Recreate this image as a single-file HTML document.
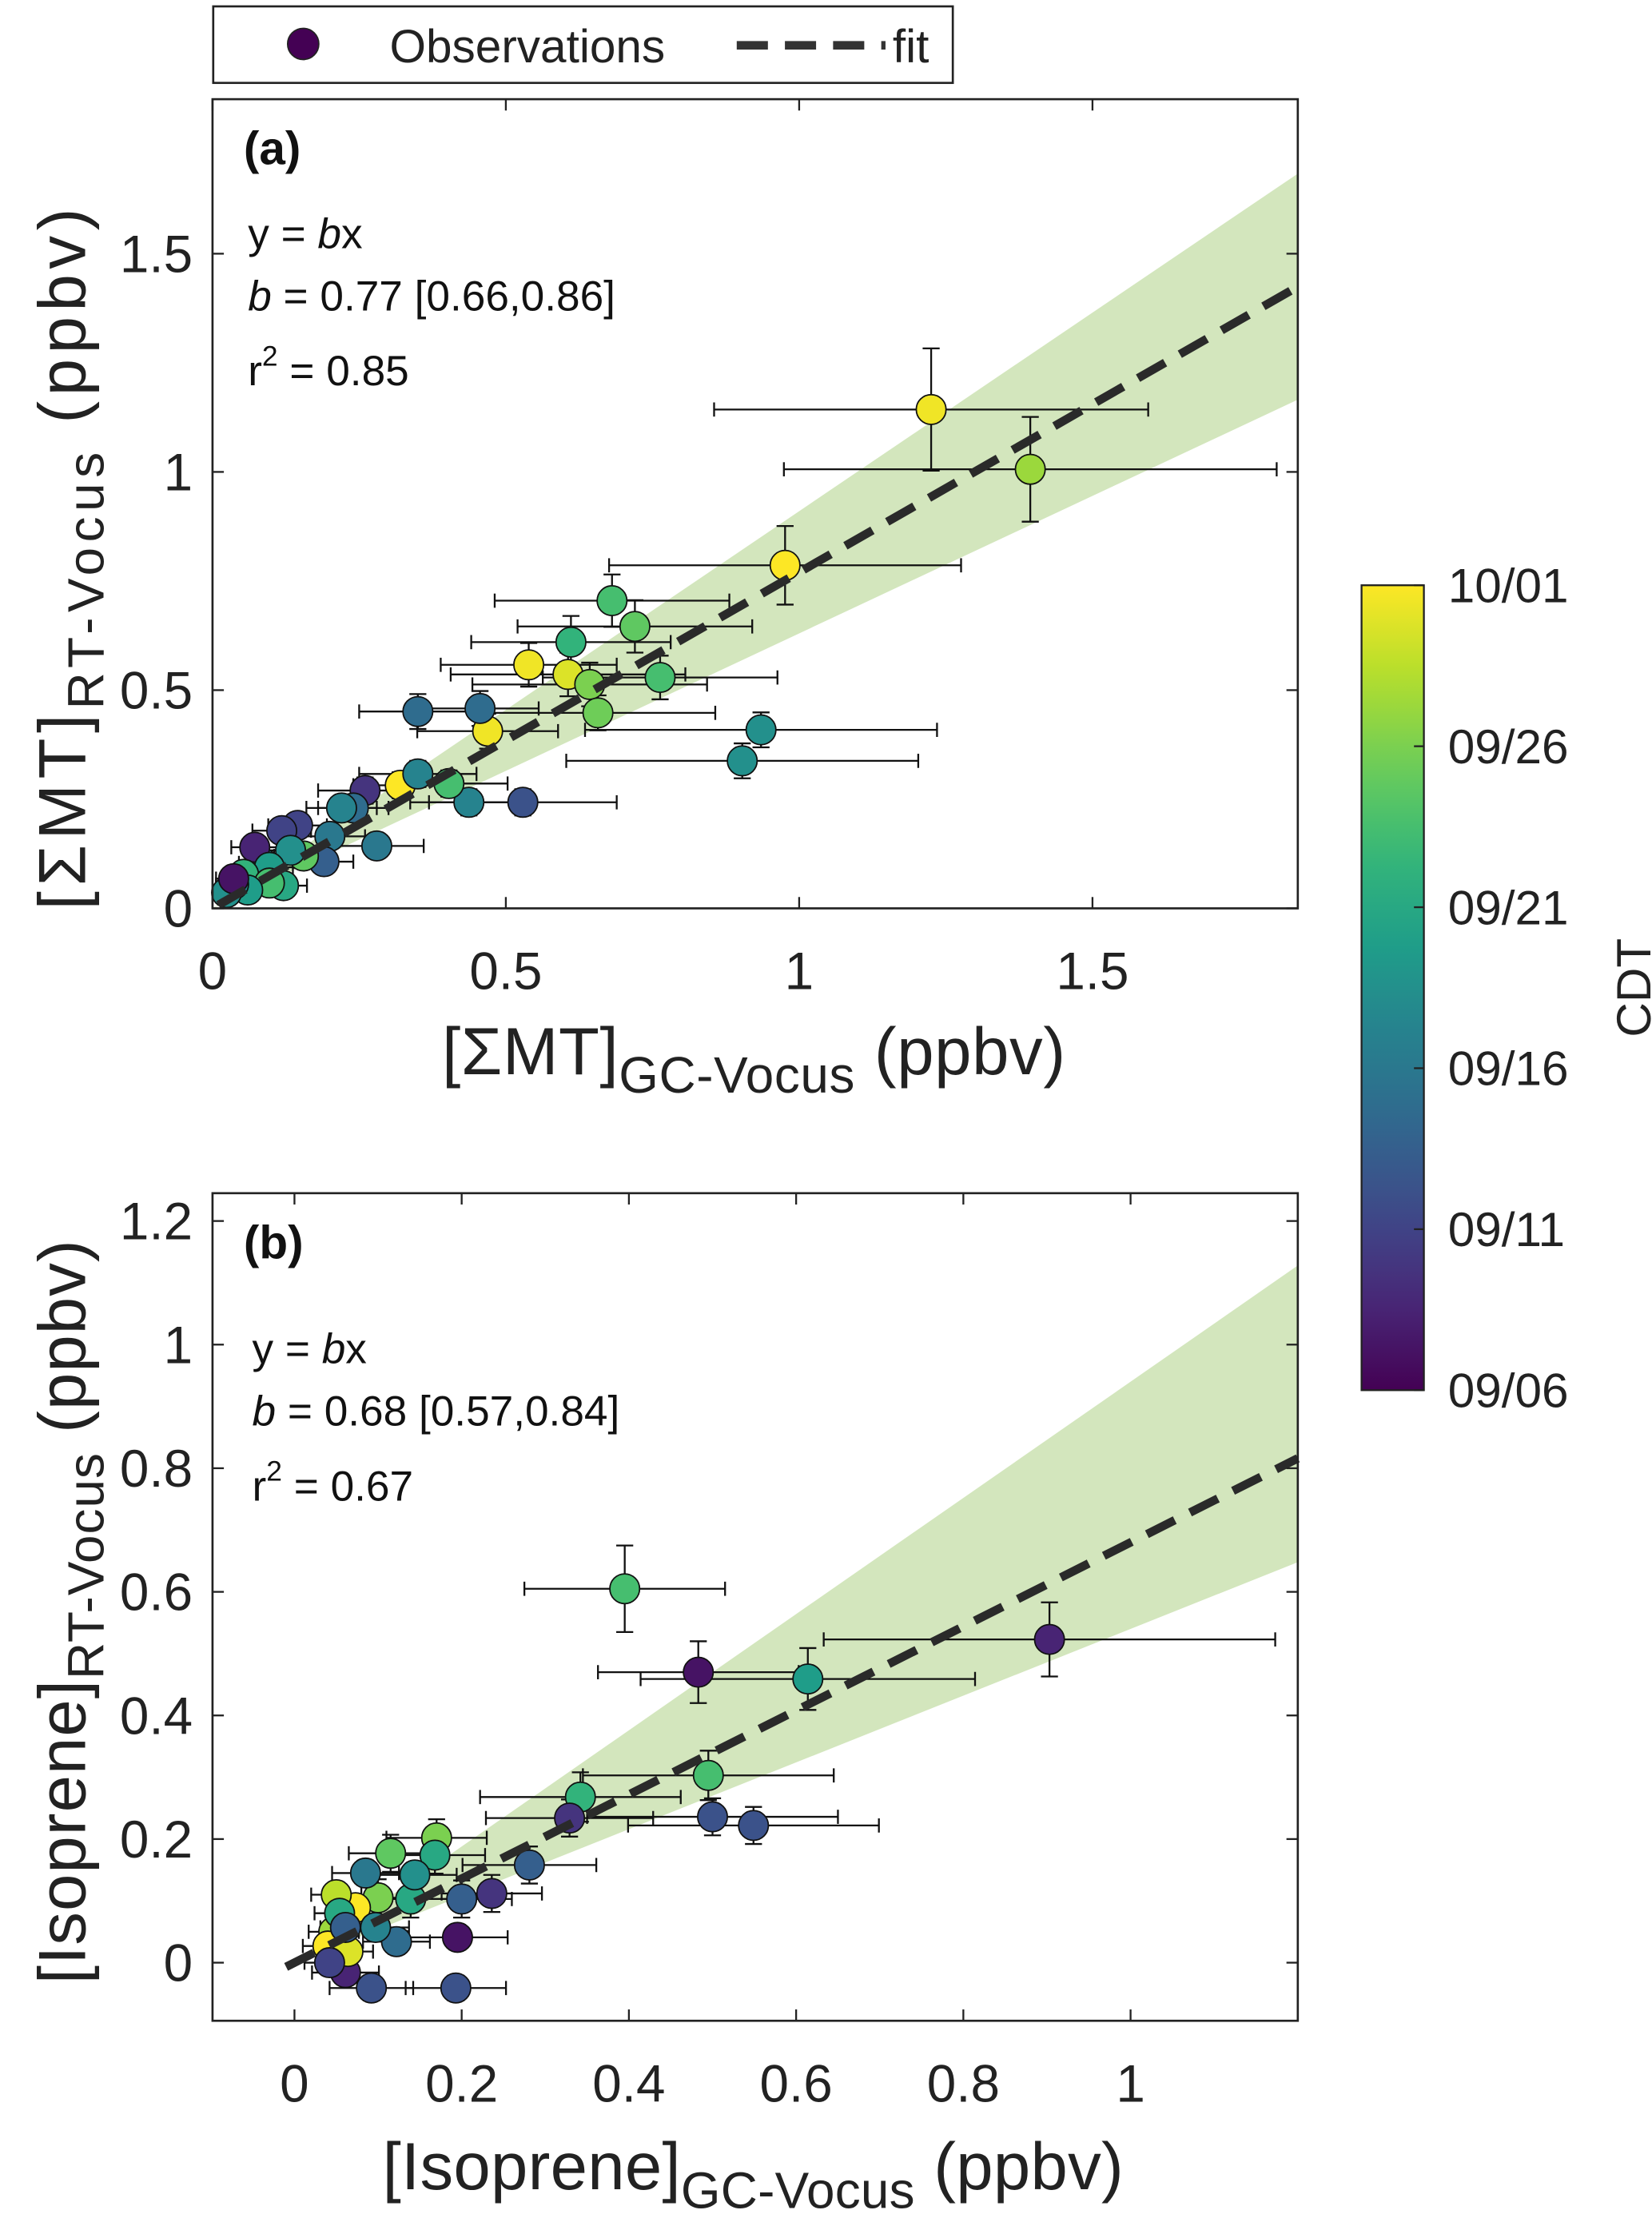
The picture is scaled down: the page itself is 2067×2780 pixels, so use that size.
<!DOCTYPE html>
<html><head><meta charset="utf-8"><style>
html,body{margin:0;padding:0;background:#fff;}
svg{display:block;font-family:"Liberation Sans",Arial,sans-serif;}
</style></head><body>
<svg id="chart" width="2067" height="2780" viewBox="0 0 1166 1568" preserveAspectRatio="none" xmlns="http://www.w3.org/2000/svg">
<rect width="1166" height="1568" fill="#fff"/>
<g>
<rect x="150.5" y="4.5" width="522" height="54" fill="#fff" stroke="#222" stroke-width="1.5"/>
<circle cx="214" cy="31" r="11" fill="#440154" stroke="#222" stroke-width="1"/>
<text x="275" y="44" font-size="33" fill="#222">Observations</text>
<line x1="520" y1="32" x2="625" y2="32" stroke="#333" stroke-width="6" stroke-dasharray="22,12"/>
<text x="630" y="44" font-size="33" fill="#222">fit</text>
</g>
<g id="pa"></g>
<g id="pb"></g>
<g id="cb"></g>
</svg>
<script>
// Panel (a) data
const aX=[1.225,1.394,0.976,0.681,0.72,0.611,0.539,0.606,0.643,0.763,0.657,0.469,0.935,0.903,0.35,0.456,0.529,0.437,0.403,0.32,0.35,0.26,0.28,0.24,0.22,0.2,0.19,0.145,0.118,0.155,0.133,0.085,0.072,0.097,0.053,0.121,0.097,0.06,0.036,0.024,0.036];
const aY=[1.143,1.006,0.786,0.705,0.646,0.61,0.558,0.536,0.513,0.529,0.448,0.406,0.409,0.338,0.451,0.458,0.243,0.243,0.286,0.282,0.308,0.27,0.143,0.23,0.23,0.165,0.107,0.19,0.178,0.12,0.133,0.104,0.14,0.094,0.078,0.052,0.058,0.042,0.055,0.036,0.068];
const aXerr=[0.37,0.42,0.3,0.2,0.2,0.17,0.15,0.2,0.2,0.2,0.2,0.12,0.3,0.3,0.1,0.1,0.16,0.1,0.1,0.08,0.1,0.08,0.08,0.06,0.06,0.06,0.05,0.05,0.05,0.05,0.05,0.04,0.04,0.04,0.03,0.04,0.04,0.03,0.03,0.02,0.03];
const aYerr=[0.14,0.12,0.09,0.06,0.06,0.06,0.05,0.05,0.05,0.05,0.04,0.04,0.04,0.04,0.04,0.04,0.03,0.03,0.03,0.03,0.03,0.03,0.02,0.02,0.02,0.02,0.02,0.02,0.02,0.02,0.02,0.02,0.02,0.02,0.02,0.02,0.02,0.02,0.02,0.02,0.02];
const aC=[0.98,0.85,1.0,0.7,0.75,0.65,0.98,0.95,0.8,0.7,0.78,0.98,0.5,0.5,0.35,0.35,0.25,0.45,0.7,1.0,0.45,0.15,0.4,0.35,0.45,0.4,0.3,0.2,0.2,0.75,0.5,0.45,0.1,0.55,0.65,0.6,0.7,0.55,0.45,0.5,0.05];
const aFit=0.77, aLo=0.63, aHi=0.91;
const aXticks=[0,0.5,1,1.5], aXtickLabels=["0","0.5","1","1.5"];
const aYticks=[0,0.5,1,1.5], aYtickLabels=["0","0.5","1","1.5"];
// Panel (b) data
const bX=[0.395,0.903,0.614,0.483,0.495,0.342,0.329,0.5,0.549,0.281,0.236,0.2,0.195,0.193,0.092,0.061,0.17,0.168,0.115,0.1,0.139,0.122,0.073,0.047,0.04,0.064,0.05,0.054,0.085,0.144,0.097,0.042,0.061];
const bY=[0.605,0.523,0.459,0.47,0.303,0.268,0.234,0.236,0.222,0.158,0.112,0.103,0.041,-0.041,-0.041,-0.016,0.202,0.174,0.177,0.105,0.103,0.034,0.089,0.05,0.027,0.018,0.11,0.08,0.145,0.142,0.057,0,0.057];
const bXerr=[0.12,0.27,0.2,0.12,0.15,0.12,0.1,0.15,0.15,0.08,0.06,0.06,0.06,0.06,0.05,0.04,0.06,0.06,0.05,0.05,0.05,0.04,0.03,0.03,0.03,0.03,0.03,0.03,0.04,0.05,0.04,0.03,0.03];
const bYerr=[0.07,0.06,0.05,0.05,0.04,0.04,0.03,0.03,0.03,0.03,0.03,0.03,0.02,0.02,0.02,0.02,0.03,0.03,0.03,0.03,0.03,0.02,0.02,0.02,0.02,0.02,0.02,0.02,0.02,0.02,0.02,0.02,0.02];
const bC=[0.7,0.1,0.55,0.05,0.7,0.65,0.15,0.25,0.25,0.3,0.15,0.3,0.05,0.25,0.25,0.1,0.8,0.6,0.75,0.8,0.6,0.35,1.0,0.85,1.0,0.95,0.9,0.6,0.4,0.5,0.45,0.2,0.3];
const bFit=0.68, bLo=0.54, bHi=0.94;
const bXticks=[0,0.2,0.4,0.6,0.8,1], bXtickLabels=["0","0.2","0.4","0.6","0.8","1"];
const bYticks=[0,0.2,0.4,0.6,0.8,1,1.2], bYtickLabels=["0","0.2","0.4","0.6","0.8","1","1.2"];
const cbTickLabels=["09/06","09/11","09/16","09/21","09/26","10/01"];

const NS="http://www.w3.org/2000/svg";
function mk(p,t,a){const e=document.createElementNS(NS,t);for(const k in a)e.setAttribute(k,a[k]);p.appendChild(e);return e;}
const VS=[[68,1,84],[72,40,120],[62,74,137],[49,104,142],[38,130,142],[31,158,137],[53,183,121],[109,205,89],[180,222,44],[253,231,37]];
function vir(t){t=Math.max(0,Math.min(1,t))*9;const i=Math.min(8,Math.floor(t)),f=t-i;const a=VS[i],b=VS[i+1];return `rgb(${a.map((v,k)=>Math.round(v+(b[k]-v)*f)).join(',')})`;}

function panel(g,box,xr,yr,X,Y,XE,YE,C,fit,lo,hi,xt,xtl,yt,ytl,fitX0,lab,stats,xlab,ylab){
  const sx=v=>box.x+(v-xr[0])/(xr[1]-xr[0])*box.w;
  const sy=v=>box.y+box.h-(v-yr[0])/(yr[1]-yr[0])*box.h;
  const x1=xr[1];
  const band=mk(g,'polygon',{points:`${sx(0)},${sy(0)} ${sx(x1)},${sy(hi*x1)} ${sx(x1)},${sy(lo*x1)}`,fill:'#d3e6bd'});
  
  
  for(let i=0;i<X.length;i++){
    const eb=mk(g,'g',{stroke:'#111','stroke-width':1.3});
    
    
    const cx=sx(X[i]),cy=sy(Y[i]),xa=sx(X[i]-XE[i]),xb=sx(X[i]+XE[i]),ya=sy(Y[i]+YE[i]),yb=sy(Y[i]-YE[i]);
    mk(eb,'line',{x1:xa,y1:cy,x2:xb,y2:cy});
    mk(eb,'line',{x1:xa,y1:cy-5,x2:xa,y2:cy+5});
    mk(eb,'line',{x1:xb,y1:cy-5,x2:xb,y2:cy+5});
    mk(eb,'line',{x1:cx,y1:ya,x2:cx,y2:yb});
    mk(eb,'line',{x1:cx-6,y1:ya,x2:cx+6,y2:ya});
    mk(eb,'line',{x1:cx-6,y1:yb,x2:cx+6,y2:yb});
  }
  for(let i=0;i<X.length;i++){
    const c=mk(g,'circle',{cx:sx(X[i]),cy:sy(Y[i]),r:10.5,fill:vir(C[i]),stroke:'#111','stroke-width':1});
    
    
  }
  const fl=mk(g,'line',{x1:sx(fitX0),y1:sy(fit*fitX0),x2:sx(x1),y2:sy(fit*x1),stroke:'#2a2a2a','stroke-width':6,'stroke-dasharray':'22,12'});
  
  
  const fr=mk(g,'rect',{x:box.x,y:box.y,width:box.w,height:box.h,fill:'none',stroke:'#222','stroke-width':1.5});
  
  
  xt.forEach((v,i)=>{
    mk(g,'line',{x1:sx(v),y1:box.y+box.h,x2:sx(v),y2:box.y+box.h-8,stroke:'#222','stroke-width':1.3});
    mk(g,'line',{x1:sx(v),y1:box.y,x2:sx(v),y2:box.y+8,stroke:'#222','stroke-width':1.3});
    const t=mk(g,'text',{x:sx(v),y:box.y+box.h+57,'font-size':37,'text-anchor':'middle',fill:'#222'});t.textContent=xtl[i];
    
    
  });
  yt.forEach((v,i)=>{
    mk(g,'line',{x1:box.x,y1:sy(v),x2:box.x+8,y2:sy(v),stroke:'#222','stroke-width':1.3});
    mk(g,'line',{x1:box.x+box.w,y1:sy(v),x2:box.x+box.w-8,y2:sy(v),stroke:'#222','stroke-width':1.3});
    const t=mk(g,'text',{x:box.x-14,y:sy(v)+13,'font-size':37,'text-anchor':'end',fill:'#222'});t.textContent=ytl[i];
    
    
  });
  const pl=mk(g,'text',{x:box.x+22,y:box.y+46,'font-size':33,'font-weight':'bold',fill:'#111'});pl.textContent=lab;
  
  
  const st=mk(g,'g',{});
  
  
  st.innerHTML=stats;
  const xl=mk(g,'g',{});
  
  
  xl.innerHTML=xlab;
  const yl=mk(g,'g',{});
  
  
  yl.innerHTML=ylab;
}
const F='font-size="30" fill="#111"';
panel(document.getElementById('pa'),{x:150,y:70,w:766,h:571},[0,1.85],[0,1.854],aX,aY,aXerr,aYerr,aC,aFit,aLo,aHi,aXticks,aXtickLabels,aYticks,aYtickLabels,0.01,'(a)',
 `<text x="175" y="175" ${F}>y = <tspan font-style="italic">b</tspan>x</text>
  <text x="175" y="219" ${F}><tspan font-style="italic">b</tspan> = 0.77 [0.66,0.86]</text>
  <text x="175" y="272" ${F}>r<tspan font-size="20" dy="-14">2</tspan><tspan dy="14"> = 0.85</tspan></text>`,
 `<text x="312" y="758" font-size="47" fill="#222" textLength="440" lengthAdjust="spacing">[ΣMT]<tspan font-size="36" dy="13">GC-Vocus</tspan><tspan dy="-13"> (ppbv)</tspan></text>`,
 `<text transform="translate(60,642) rotate(-90)" font-size="47" fill="#222" textLength="495" lengthAdjust="spacing">[ΣMT]<tspan font-size="36" dy="13">RT-Vocus</tspan><tspan dy="-13"> (ppbv)</tspan></text>`);
panel(document.getElementById('pb'),{x:150,y:842,w:766,h:584},[-0.098,1.2],[-0.094,1.245],bX,bY,bXerr,bYerr,bC,bFit,bLo,bHi,bXticks,bXtickLabels,bYticks,bYtickLabels,-0.01,'(b)',
 `<text x="178" y="962" ${F}>y = <tspan font-style="italic">b</tspan>x</text>
  <text x="178" y="1006" ${F}><tspan font-style="italic">b</tspan> = 0.68 [0.57,0.84]</text>
  <text x="178" y="1059" ${F}>r<tspan font-size="20" dy="-14">2</tspan><tspan dy="14"> = 0.67</tspan></text>`,
 `<text x="270" y="1545" font-size="47" fill="#222" textLength="523" lengthAdjust="spacing">[Isoprene]<tspan font-size="36" dy="13">GC-Vocus</tspan><tspan dy="-13"> (ppbv)</tspan></text>`,
 `<text transform="translate(60,1400) rotate(-90)" font-size="47" fill="#222" textLength="525" lengthAdjust="spacing">[Isoprene]<tspan font-size="36" dy="13">RT-Vocus</tspan><tspan dy="-13"> (ppbv)</tspan></text>`);
// colorbar
const cb=document.getElementById('cb');
const defs=mk(cb,'defs',{});const lg=mk(defs,'linearGradient',{id:'vg',x1:0,y1:1,x2:0,y2:0});
for(let i=0;i<=20;i++)mk(lg,'stop',{offset:i/20,'stop-color':vir(i/20)});
const cbx=961,cby=413,cbw=44,cbh=568;
const cr=mk(cb,'rect',{x:cbx,y:cby,width:cbw,height:cbh,fill:'url(#vg)',stroke:'#222','stroke-width':1.3});


cbTickLabels.forEach((s,i)=>{
  const y=cby+cbh-i/(cbTickLabels.length-1)*cbh;
  mk(cb,'line',{x1:cbx+cbw-7,y1:y,x2:cbx+cbw,y2:y,stroke:'#222','stroke-width':1.3});
  const t=mk(cb,'text',{x:1022,y:y+12,'font-size':34,fill:'#222'});t.textContent=s;
  
  
});
const ct=mk(cb,'text',{transform:'translate(1165,697) rotate(-90)','font-size':34,'text-anchor':'middle',fill:'#222'});ct.textContent='CDT';


</script>
</body></html>
